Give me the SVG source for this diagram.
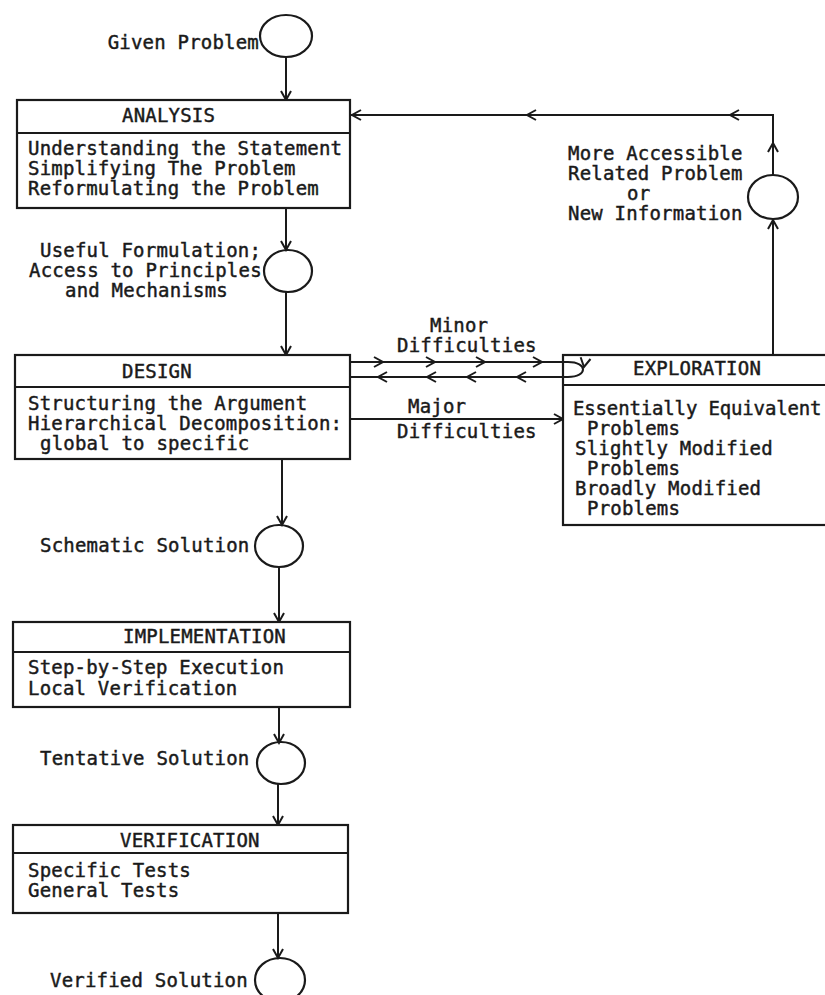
<svg xmlns="http://www.w3.org/2000/svg" xmlns:xlink="http://www.w3.org/1999/xlink" width="825" height="995" viewBox="0 0 825 995">
<style>
text{font-family:"DejaVu Sans Mono","Liberation Mono",monospace;font-size:19px;letter-spacing:0.2px;fill:#1a1a1a;stroke:#1a1a1a;stroke-width:0.45}
.box{fill:#fff;stroke:#1a1a1a;stroke-width:2.2}
.div{stroke:#1a1a1a;stroke-width:2.2}
.ln{fill:none;stroke:#1a1a1a;stroke-width:2}
.st{fill:none;stroke:#1a1a1a;stroke-width:2.2}
</style>
<defs>
<path id="ah" d="M-9,-5 L0,0 L-9,5" fill="none" stroke="#1a1a1a" stroke-width="2" stroke-linejoin="miter"/>
</defs>
<rect width="825" height="995" fill="#fff"/>
<g id="connectors">
<line class="ln" x1="286" y1="57" x2="286" y2="100"/>
<use xlink:href="#ah" transform="translate(286,100) rotate(90)"/>
<line class="ln" x1="286" y1="208" x2="286" y2="250"/>
<use xlink:href="#ah" transform="translate(286,250) rotate(90)"/>
<line class="ln" x1="286" y1="292" x2="286" y2="355"/>
<use xlink:href="#ah" transform="translate(286,355) rotate(90)"/>
<path class="ln" d="M350,362 H568 C588,362 588,377 568,377 H350"/>
<use xlink:href="#ah" transform="translate(383,362)"/>
<use xlink:href="#ah" transform="translate(435,362)"/>
<use xlink:href="#ah" transform="translate(485,362)"/>
<use xlink:href="#ah" transform="translate(542,362)"/>
<use xlink:href="#ah" transform="translate(378,377) rotate(180)"/>
<use xlink:href="#ah" transform="translate(427,377) rotate(180)"/>
<use xlink:href="#ah" transform="translate(467,377) rotate(180)"/>
<use xlink:href="#ah" transform="translate(517,377) rotate(180)"/>
<line class="ln" x1="350" y1="419" x2="563" y2="419"/>
<use xlink:href="#ah" transform="translate(563,419)"/>
<line class="ln" x1="773" y1="355" x2="773" y2="219"/>
<use xlink:href="#ah" transform="translate(773,220) rotate(-90)"/>
<path class="ln" d="M773,175 V115 H350"/>
<use xlink:href="#ah" transform="translate(773,143) rotate(-90)"/>
<use xlink:href="#ah" transform="translate(730,115) rotate(180)"/>
<use xlink:href="#ah" transform="translate(527,115) rotate(180)"/>
<use xlink:href="#ah" transform="translate(352,115) rotate(180)"/>
<line class="ln" x1="282" y1="459" x2="282" y2="525"/>
<use xlink:href="#ah" transform="translate(282,525) rotate(90)"/>
<line class="ln" x1="279" y1="567" x2="279" y2="622"/>
<use xlink:href="#ah" transform="translate(279,622) rotate(90)"/>
<line class="ln" x1="279" y1="707" x2="279" y2="743"/>
<use xlink:href="#ah" transform="translate(279,743) rotate(90)"/>
<line class="ln" x1="278" y1="784" x2="278" y2="825"/>
<use xlink:href="#ah" transform="translate(278,825) rotate(90)"/>
<line class="ln" x1="278" y1="913" x2="278" y2="958"/>
<use xlink:href="#ah" transform="translate(278,958) rotate(90)"/>
</g>
<g id="given-problem">
<ellipse class="st" cx="286" cy="36" rx="26" ry="21"/>
<text x="259" y="49" text-anchor="end">Given Problem</text>
</g>
<g id="analysis">
<rect class="box" x="17" y="100" width="333" height="108"/>
<line class="div" x1="17" y1="133" x2="350" y2="133"/>
<text x="122" y="122">ANALYSIS</text>
<text x="28" y="155">Understanding the Statement</text>
<text x="28" y="175">Simplifying The Problem</text>
<text x="28" y="195">Reformulating the Problem</text>
</g>
<g id="useful-formulation">
<ellipse class="st" cx="288" cy="271" rx="24" ry="21"/>
<text x="40" y="257">Useful Formulation;</text>
<text x="29" y="277">Access to Principles</text>
<text x="65" y="297">and Mechanisms</text>
</g>
<g id="design">
<rect class="box" x="15" y="355" width="335" height="104"/>
<line class="div" x1="15" y1="387" x2="350" y2="387"/>
<text x="122" y="378">DESIGN</text>
<text x="28" y="410">Structuring the Argument</text>
<text x="28" y="430">Hierarchical Decomposition:</text>
<text x="40" y="450">global to specific</text>
</g>
<g id="labels-difficulties">
<text x="430" y="332">Minor</text>
<text x="397" y="352">Difficulties</text>
<text x="408" y="413">Major</text>
<text x="397" y="438">Difficulties</text>
</g>
<g id="exploration">
<rect class="box" x="563" y="355" width="275" height="170" fill="none"/>
<line class="div" x1="563" y1="385" x2="838" y2="385"/>
<path class="ln" d="M563,362 H568 C588,362 588,377 568,377 H563"/>
<use xlink:href="#ah" transform="translate(584,367) rotate(100)"/>
<text x="633" y="375">EXPLORATION</text>
<text x="573" y="415" style="letter-spacing:-0.15px">Essentially Equivalent</text>
<text x="587" y="435">Problems</text>
<text x="575" y="455">Slightly Modified</text>
<text x="587" y="475">Problems</text>
<text x="575" y="495">Broadly Modified</text>
<text x="587" y="515">Problems</text>
</g>
<g id="related-problem">
<ellipse class="st" cx="773" cy="197" rx="25" ry="22"/>
<text x="568" y="160">More Accessible</text>
<text x="568" y="180">Related Problem</text>
<text x="627" y="200">or</text>
<text x="568" y="220">New Information</text>
</g>
<g id="schematic-solution">
<ellipse class="st" cx="279" cy="546" rx="24" ry="21"/>
<text x="40" y="552">Schematic Solution</text>
</g>
<g id="implementation">
<rect class="box" x="13" y="622" width="337" height="85"/>
<line class="div" x1="13" y1="652" x2="350" y2="652"/>
<text x="123" y="643">IMPLEMENTATION</text>
<text x="28" y="674">Step-by-Step Execution</text>
<text x="28" y="695">Local Verification</text>
</g>
<g id="tentative-solution">
<ellipse class="st" cx="281" cy="763" rx="24" ry="21"/>
<text x="40" y="765">Tentative Solution</text>
</g>
<g id="verification">
<rect class="box" x="13" y="825" width="335" height="88"/>
<line class="div" x1="13" y1="853" x2="348" y2="853"/>
<text x="120" y="847">VERIFICATION</text>
<text x="28" y="877">Specific Tests</text>
<text x="28" y="897">General Tests</text>
</g>
<g id="verified-solution">
<ellipse class="st" cx="280" cy="980" rx="25" ry="22"/>
<text x="50" y="987">Verified Solution</text>
</g>
</svg>
